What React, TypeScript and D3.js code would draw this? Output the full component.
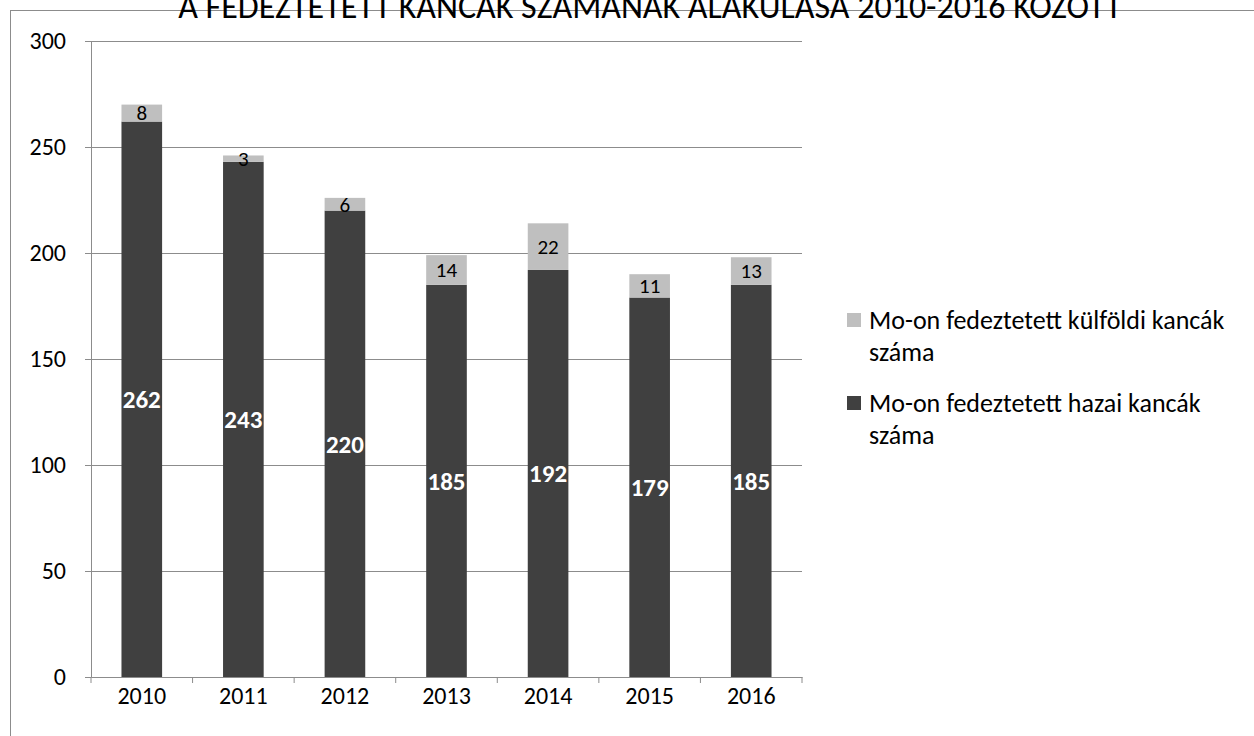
import { useEffect, useRef } from 'react'
import * as d3 from 'd3'

const years = ['2010', '2011', '2012', '2013', '2014', '2015', '2016']
const hazai = [262, 243, 220, 185, 192, 179, 185]
const kulfoldi = [8, 3, 6, 14, 22, 11, 13]
const yTicks = [0, 50, 100, 150, 200, 250, 300]
const title = 'A FEDEZTETETT KANCÁK SZÁMÁNAK ALAKULÁSA 2010-2016 KÖZÖTT'
const legendItems = [
  { lines: ['Mo-on fedeztetett külföldi kancák', 'száma'], color: '#bfbfbf' },
  { lines: ['Mo-on fedeztetett hazai kancák', 'száma'], color: '#404040' },
]

const FONT = 'Carlito, Lato, "Open Sans", sans-serif'

export default function App() {
  const svgRef = useRef<SVGSVGElement>(null)
  const width = 1254
  const height = 736

  useEffect(() => {
    if (!svgRef.current) return
    const svg = d3.select(svgRef.current)
    svg.selectAll('*').remove()

    const margin = { top: 41, left: 91, right: 452, bottom: 59 }
    const innerW = width - margin.left - margin.right
    const innerH = height - margin.top - margin.bottom

    // outer chart border
    svg.append('rect').attr('x', 10.5).attr('y', 10.5).attr('width', width + 20).attr('height', height + 20)
      .attr('fill', 'none').attr('stroke', '#8c8c8c').attr('stroke-width', 1)

    // title (clipped by the top edge, as in the source)
    svg.append('text').attr('x', 650).attr('y', 18).attr('text-anchor', 'middle')
      .attr('font-family', FONT).attr('font-size', 34).attr('fill', '#000').text(title)

    const g = svg.append('g').attr('transform', `translate(${margin.left},${margin.top})`)

    const x = d3.scaleBand().domain(years).range([0, innerW]).paddingInner(0.6).paddingOuter(0.3)
    const xTick = d3.scaleBand().domain(years).range([0, innerW])
    const y = d3.scaleLinear().domain([0, 300]).range([innerH, 0])

    // gridlines
    yTicks.forEach(t => {
      if (t === 0) return
      g.append('line').attr('x1', 0).attr('x2', innerW).attr('y1', Math.round(y(t)) + 0.5).attr('y2', Math.round(y(t)) + 0.5)
        .attr('stroke', '#8c8c8c').attr('stroke-width', 1)
    })

    // bars
    years.forEach((yr, i) => {
      const bx = x(yr)!
      const bw = x.bandwidth()
      const h = hazai[i]
      const k = kulfoldi[i]
      g.append('rect').attr('x', bx).attr('y', y(h)).attr('width', bw).attr('height', y(0) - y(h)).attr('fill', '#404040')
      g.append('rect').attr('x', bx).attr('y', y(h + k)).attr('width', bw).attr('height', y(h) - y(h + k)).attr('fill', '#bfbfbf')

      g.append('text').attr('x', bx + bw / 2).attr('y', y(h / 2)).attr('dy', '0.35em').attr('text-anchor', 'middle')
        .attr('font-family', FONT).attr('font-size', 25).attr('font-weight', 'bold').attr('fill', '#fff').text(h)
      g.append('text').attr('x', bx + bw / 2).attr('y', y(h + k / 2)).attr('dy', '0.35em').attr('text-anchor', 'middle')
        .attr('font-family', FONT).attr('font-size', 21).attr('fill', '#000').text(k)
    })

    // y axis
    const yAxis = g.append('g').call(d3.axisLeft(y).tickValues(yTicks).tickSize(6).tickPadding(19))
    yAxis.selectAll('text').attr('font-family', FONT).attr('font-size', 24).attr('fill', '#000')

    // x axis
    const xAxis = g.append('g').attr('transform', `translate(0,${innerH})`)
      .call(d3.axisBottom(xTick).tickSize(0).tickPadding(10))
    xAxis.selectAll('text').attr('font-family', FONT).attr('font-size', 24).attr('fill', '#000')
    ;[...years.map(yr => xTick(yr)!), innerW].forEach(tx => {
      xAxis.append('line').attr('x1', tx).attr('x2', tx).attr('y1', 0).attr('y2', 6).attr('stroke', '#8c8c8c')
    })

    g.selectAll('.domain').attr('stroke', '#8c8c8c')
    g.selectAll('.tick line').attr('stroke', '#8c8c8c')

    // legend
    const legend = svg.append('g').attr('transform', 'translate(847,313)')
    legendItems.forEach((item, i) => {
      const ly = i * 83
      legend.append('rect').attr('x', 0).attr('y', ly).attr('width', 14).attr('height', 14).attr('fill', item.color)
      item.lines.forEach((line, j) => {
        legend.append('text').attr('x', 22).attr('y', ly + 16 + j * 32)
          .attr('font-family', FONT).attr('font-size', 26).attr('fill', '#000').text(line)
      })
    })
  }, [])

  return (
    <svg ref={svgRef} width={width} height={height}
      style={{ position: 'absolute', left: 0, top: 0, background: '#fff' }} />
  )
}
